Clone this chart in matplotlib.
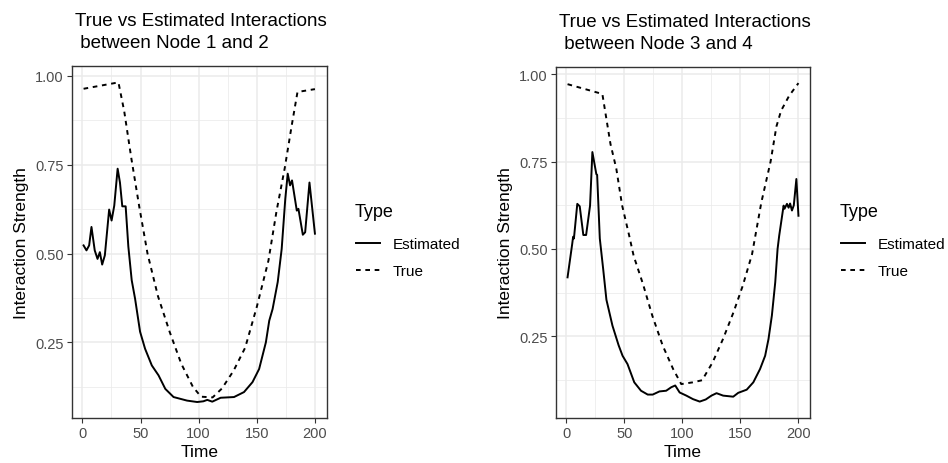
import matplotlib
matplotlib.use("Agg")
import matplotlib.pyplot as plt
from matplotlib.ticker import MultipleLocator

plt.rcParams['font.family'] = ['Liberation Sans', 'DejaVu Sans']

# ---------------- data ----------------
left_true_t = [1, 31, 36, 42, 49, 56, 65, 75, 85, 95, 102, 112, 120, 130, 140,
               150, 160, 167, 174, 180, 185, 200]
left_true_v = [0.964, 0.982, 0.90, 0.77, 0.63, 0.50, 0.38, 0.28, 0.19, 0.125,
               0.097, 0.095, 0.12, 0.17, 0.235, 0.35, 0.48, 0.62, 0.74, 0.86,
               0.955, 0.963]

left_est_t = [1, 3.5, 5.8, 7.8, 10.6, 13, 15, 17, 19.3, 23, 25.1, 27.4, 30.3,
              32.3, 34.3, 37.2, 39.5, 42.4, 45.3, 49.6, 53.9, 59.7, 65.5, 71.3,
              78.4, 90, 98.7, 104, 107.4, 111.7, 118.9, 130.4, 139, 146.3, 152,
              157.8, 160.7, 163.6, 168, 171.4, 174.5, 176.6, 178.6, 180.3, 184.4,
              185.8, 189.6, 191.6, 195.3, 200]
left_est_v = [0.523, 0.509, 0.523, 0.575, 0.509, 0.485, 0.504, 0.469, 0.495,
              0.624, 0.593, 0.635, 0.739, 0.70, 0.633, 0.633, 0.52, 0.425,
              0.373, 0.28, 0.232, 0.185, 0.157, 0.119, 0.096, 0.086, 0.082,
              0.084, 0.088, 0.083, 0.094, 0.096, 0.11, 0.138, 0.175, 0.25,
              0.311, 0.344, 0.42, 0.513, 0.654, 0.725, 0.692, 0.706, 0.621,
              0.626, 0.553, 0.56, 0.70, 0.556]

right_true_t = [1, 31, 38, 43, 48, 54, 58, 66, 74, 83, 92, 99, 109, 117, 126,
                135, 144, 152, 160, 168, 176, 181, 185, 192, 200]
right_true_v = [0.971, 0.943, 0.80, 0.73, 0.625, 0.54, 0.48, 0.40, 0.31, 0.224,
                0.157, 0.114, 0.119, 0.125, 0.176, 0.243, 0.319, 0.395, 0.485,
                0.633, 0.75, 0.85, 0.895, 0.938, 0.974]

right_est_t = [1, 5, 5.8, 6.5, 9.4, 11.5, 14.6, 17, 20.4, 22.4, 25.8, 26.5,
               28.8, 31.7, 34.5, 39.7, 45, 48.4, 52.7, 58.5, 64.3, 70.1, 74.4,
               80.2, 86, 90.4, 93.8, 97.6, 103.4, 109.1, 114.9, 120.1, 125,
               129.4, 135.1, 143.8, 148.1, 155.4, 161.1, 166.9, 171.3, 174.2,
               177.1, 180, 182, 183.4, 187.2, 188, 190.1, 191.5, 192.8, 194.4,
               196, 198.2, 200]
right_est_v = [0.419, 0.514, 0.535, 0.53, 0.629, 0.622, 0.54, 0.54, 0.624,
               0.777, 0.714, 0.712, 0.53, 0.443, 0.355, 0.281, 0.225, 0.195,
               0.171, 0.119, 0.095, 0.084, 0.084, 0.093, 0.095, 0.105, 0.11,
               0.09, 0.081, 0.071, 0.064, 0.07, 0.081, 0.088, 0.081, 0.078,
               0.089, 0.098, 0.119, 0.157, 0.195, 0.243, 0.31, 0.405, 0.5,
               0.538, 0.624, 0.615, 0.629, 0.618, 0.63, 0.61, 0.625, 0.70, 0.595]

titles = ["True vs Estimated Interactions\n between Node 1 and 2",
          "True vs Estimated Interactions\n between Node 3 and 4"]
series_labels = ["Estimated", "True"]
legend_title = "Type"
x_ticks = [0, 50, 100, 150, 200]
y_ticks = [0.25, 0.50, 0.75, 1.00]

# ---------------- figure ----------------
W, H = 948, 464
fig = plt.figure(figsize=(W / 100, H / 100), dpi=100)

def fx(px):
    return px / W

def fy(py):
    return 1 - py / H

ax1 = fig.add_axes([fx(72), fy(419), fx(326.5 - 72), (419 - 67.4) / H])
ax2 = fig.add_axes([fx(556), fy(418.5), fx(810 - 556), (418.5 - 68.2) / H])

grid_major = "#EBEBEB"
border = "#333333"
tick_col = "#4D4D4D"
dash = (0, (2.4, 2.4))

panels = [
    (ax1, left_est_t, left_est_v, left_true_t, left_true_v, titles[0], 355),
    (ax2, right_est_t, right_est_v, right_true_t, right_true_v, titles[1], 840),
]

for ax, et, ev, tt, tv, title, legx in panels:
    ax.plot(et, ev, color="black", lw=1.4, solid_joinstyle="round",
            label=series_labels[0], zorder=3)
    ax.plot(tt, tv, color="black", lw=1.4, linestyle=dash,
            label=series_labels[1], zorder=3)
    ax.margins(x=0.05, y=0.05)
    ax.set_xticks(x_ticks)
    ax.set_yticks(y_ticks)
    ax.set_yticklabels([f"{v:.2f}" for v in y_ticks])
    ax.xaxis.set_minor_locator(MultipleLocator(25))
    ax.yaxis.set_minor_locator(MultipleLocator(0.125))
    ax.grid(True, which="major", color=grid_major, lw=1.1, zorder=0)
    ax.grid(True, which="minor", color=grid_major, lw=0.55, zorder=0)
    ax.set_axisbelow(True)
    for s in ax.spines.values():
        s.set_color(border)
        s.set_linewidth(1.0)
    ax.tick_params(which="major", length=3.5, width=0.8, color=border,
                   labelcolor=tick_col, labelsize=10.5, pad=2.5)
    ax.tick_params(which="minor", length=0)
    ax.set_xlabel("Time", fontsize=12.5, labelpad=3)
    ax.set_ylabel("Interaction Strength", fontsize=12.5, labelpad=4)
    t = ax.set_title(title, loc="left", fontsize=13.5, pad=14, linespacing=1.38)
    t.set_x(3 / ax.bbox.width)
    ax.legend(loc="upper left", bbox_to_anchor=(fx(legx - 5), fy(232)),
              bbox_transform=fig.transFigure, frameon=False,
              fontsize=11, handlelength=1.55, handletextpad=0.85,
              labelspacing=0.85, borderaxespad=0)
    fig.text(fx(legx), fy(212.5), legend_title, fontsize=13, va="center",
             ha="left")

fig.savefig("out.png", dpi=100)
